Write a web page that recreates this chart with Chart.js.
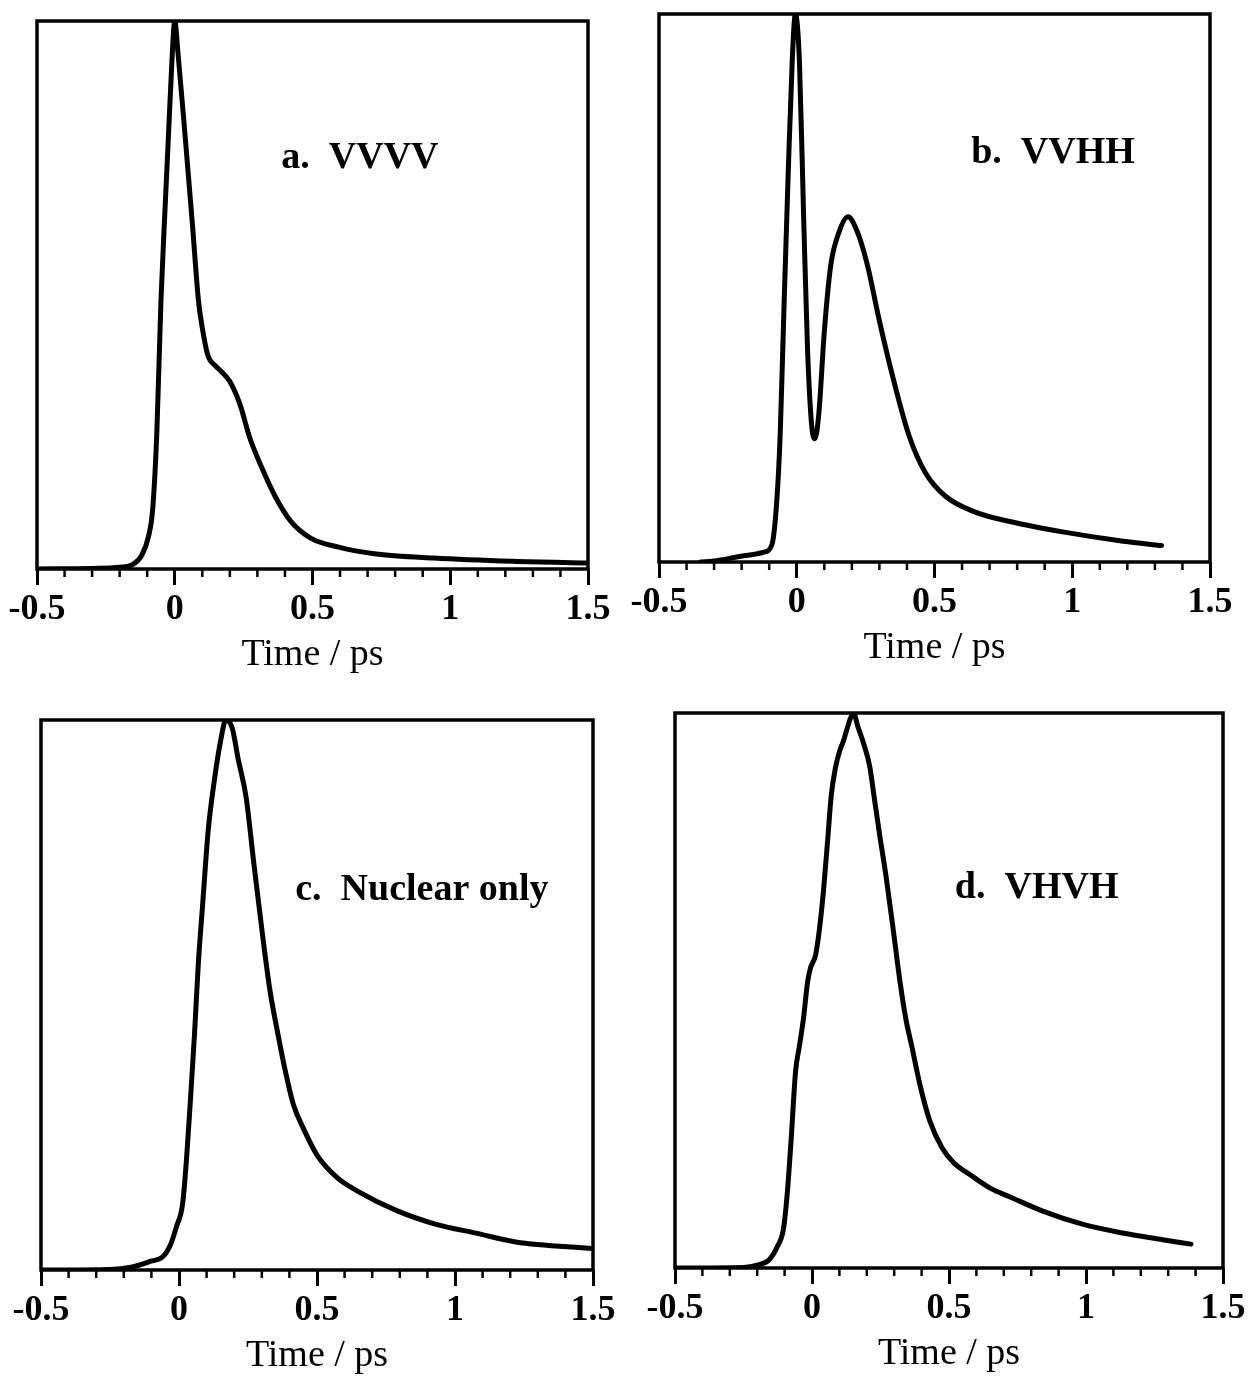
<!DOCTYPE html>
<html>
<head>
<meta charset="utf-8">
<script src="https://cdn.jsdelivr.net/npm/chart.js@4.4.1/dist/chart.umd.min.js"></script>
<style>
  html, body { margin: 0; padding: 0; background: #fff; }
  #page { position: relative; width: 1251px; height: 1377px; overflow: hidden; }
  canvas { position: absolute; }
</style>
</head>
<body>
<div id="page">
  <canvas id="chartA"></canvas>
  <canvas id="chartB"></canvas>
  <canvas id="chartC"></canvas>
  <canvas id="chartD"></canvas>
</div>
<script>
// x ticks (ps)
const timeTicks = [-0.5, 0, 0.5, 1, 1.5];

// a. VVVV
const timeA = [-0.5, -0.3, -0.2, -0.15, -0.12, -0.095, -0.08, -0.065, -0.05, -0.035, -0.022,
  -0.01, 0, 0.012, 0.036, 0.064, 0.086, 0.1, 0.12, 0.145, 0.17,
  0.2, 0.237, 0.272, 0.315, 0.366, 0.423, 0.495, 0.595, 0.725, 0.94, 1.227, 1.5];
const signalA = [0, 0.001, 0.003, 0.009, 0.025, 0.06, 0.11, 0.25, 0.49, 0.66, 0.8,
  0.93, 1.0, 0.94, 0.8, 0.63, 0.49, 0.44, 0.39, 0.372, 0.36,
  0.342, 0.3, 0.24, 0.186, 0.131, 0.086, 0.056, 0.04, 0.028, 0.02, 0.014, 0.011];

// b. VVHH
const timeB = [-0.35, -0.3, -0.207, -0.119, -0.09, -0.072, -0.06, -0.046, -0.031, -0.016,
  -0.005, 0.01, 0.025, 0.039, 0.054, 0.066, 0.08, 0.1, 0.123, 0.152,
  0.186, 0.218, 0.255, 0.3, 0.35, 0.408, 0.467, 0.54, 0.643, 0.79, 0.965, 1.185, 1.324];
const signalB = [0, 0.002, 0.01, 0.018, 0.032, 0.115, 0.234, 0.47, 0.71, 0.92,
  1.0, 0.91, 0.63, 0.39, 0.25, 0.225, 0.27, 0.42, 0.54, 0.6,
  0.63, 0.605, 0.545, 0.44, 0.335, 0.23, 0.163, 0.12, 0.092, 0.072, 0.055, 0.038, 0.03];

// c. Nuclear only
const timeC = [-0.5, -0.25, -0.174, -0.102, -0.059, -0.03, -0.009, 0.013, 0.027, 0.042,
  0.056, 0.07, 0.085, 0.106, 0.128, 0.15, 0.17, 0.193, 0.214, 0.243,
  0.271, 0.3, 0.329, 0.358, 0.386, 0.415, 0.451, 0.5, 0.573, 0.645,
  0.789, 0.932, 1.076, 1.22, 1.5];
const signalC = [0, 0.001, 0.005, 0.016, 0.024, 0.047, 0.079, 0.12, 0.2, 0.314,
  0.427, 0.557, 0.66, 0.8, 0.89, 0.96, 1.0, 0.985, 0.93, 0.86,
  0.74, 0.62, 0.51, 0.43, 0.36, 0.3, 0.257, 0.209, 0.168, 0.144,
  0.108, 0.083, 0.067, 0.051, 0.039];

// d. VHVH
const timeD = [-0.5, -0.25, -0.2, -0.156, -0.126, -0.104, -0.09, -0.075, -0.06, -0.046,
  -0.031, -0.016, -0.006, 0.013, 0.027, 0.042, 0.057, 0.07, 0.085, 0.1,
  0.115, 0.13, 0.14, 0.152, 0.167, 0.189, 0.211, 0.225, 0.247, 0.269,
  0.299, 0.32, 0.342, 0.364, 0.394, 0.43, 0.474, 0.518, 0.577, 0.65,
  0.723, 0.84, 0.987, 1.134, 1.28, 1.383];
const signalD = [0, 0.001, 0.005, 0.015, 0.039, 0.071, 0.136, 0.24, 0.354, 0.40,
  0.45, 0.516, 0.54, 0.564, 0.61, 0.68, 0.77, 0.85, 0.9, 0.93,
  0.95, 0.975, 0.99, 1.0, 0.976, 0.944, 0.903, 0.855, 0.78, 0.71,
  0.6, 0.52, 0.45, 0.4, 0.33, 0.265, 0.217, 0.189, 0.168, 0.144,
  0.128, 0.103, 0.079, 0.063, 0.051, 0.043];

const panelNames = ['a.  VVVV', 'b.  VVHH', 'c.  Nuclear only', 'd.  VHVH'];

const SERIF = '"Liberation Serif", "Times New Roman", serif';
const PAD_L = 45, PAD_R = 45, PAD_T = 10, PAD_B = 4, AXIS_H = 109;

// frame box, minor ticks and the panel name
const framePlugin = {
  id: 'frame',
  afterDraw(chart) {
    const {ctx, chartArea: a, scales: {x, y}} = chart;
    const opts = chart.options.plugins.frame;
    ctx.save();
    ctx.strokeStyle = '#000';
    ctx.lineWidth = 3.5;
    ctx.strokeRect(a.left, a.top, a.right - a.left, a.bottom - a.top);
    ctx.lineWidth = 2.5;
    for (let i = 1; i < 20; i++) {
      if (i % 5 === 0) continue;
      const px = x.getPixelForValue(-0.5 + i * 0.1);
      ctx.beginPath();
      ctx.moveTo(px, a.bottom);
      ctx.lineTo(px, a.bottom + 8);
      ctx.stroke();
    }
    ctx.fillStyle = '#000';
    ctx.font = 'bold 38px ' + SERIF;
    ctx.textAlign = 'center';
    ctx.textBaseline = 'middle';
    ctx.fillText(opts.text, x.getPixelForValue(opts.x), y.getPixelForValue(opts.y));
    ctx.restore();
  }
};

function makeChart(id, box, times, values, name, labelAt) {
  const el = document.getElementById(id);
  const w = box.w + PAD_L + PAD_R;
  const h = PAD_T + box.h + AXIS_H + PAD_B;
  el.width = w; el.height = h;
  el.style.left = (box.left - PAD_L) + 'px';
  el.style.top = (box.top - PAD_T) + 'px';
  el.style.width = w + 'px';
  el.style.height = h + 'px';

  return new Chart(el, {
    type: 'line',
    data: {
      datasets: [{
        data: times.map((t, i) => ({x: t, y: values[i]})),
        borderColor: '#000',
        borderWidth: 5,
        pointRadius: 0,
        cubicInterpolationMode: 'monotone',
        borderCapStyle: 'round',
        borderJoinStyle: 'round',
        fill: false
      }]
    },
    options: {
      responsive: false,
      animation: false,
      layout: {padding: {left: PAD_L, right: PAD_R, top: PAD_T, bottom: PAD_B}},
      plugins: {
        legend: {display: false},
        tooltip: {enabled: false},
        frame: {text: name, x: labelAt[0], y: labelAt[1]}
      },
      scales: {
        x: {
          type: 'linear',
          min: -0.5,
          max: 1.5,
          afterBuildTicks: (scale) => { scale.ticks = timeTicks.map(v => ({value: v})); },
          afterFit: (scale) => { scale.height = AXIS_H; },
          border: {display: false},
          grid: {
            drawOnChartArea: false,
            drawTicks: true,
            tickLength: 16,
            tickWidth: 3,
            tickColor: '#000'
          },
          ticks: {
            color: '#000',
            padding: 3,
            maxRotation: 0,
            font: {family: SERIF, size: 36, weight: 'bold'},
            callback: (v) => String(v)
          },
          title: {
            display: true,
            text: 'Time / ps',
            color: '#000',
            padding: {top: 0, bottom: 0},
            font: {family: SERIF, size: 38}
          }
        },
        y: {
          display: false,
          min: 0,
          max: 1
        }
      }
    },
    plugins: [framePlugin]
  });
}

const chartA = makeChart('chartA', {left: 37, top: 21, w: 551, h: 548}, timeA, signalA, panelNames[0], [0.672, 0.75]);
const chartB = makeChart('chartB', {left: 659, top: 14, w: 551, h: 548}, timeB, signalB, panelNames[1], [0.93, 0.746]);
const chartC = makeChart('chartC', {left: 41, top: 720, w: 552, h: 550}, timeC, signalC, panelNames[2], [0.88, 0.69]);
const chartD = makeChart('chartD', {left: 675, top: 713, w: 548, h: 555}, timeD, signalD, panelNames[3], [0.82, 0.685]);
</script>
</body>
</html>
